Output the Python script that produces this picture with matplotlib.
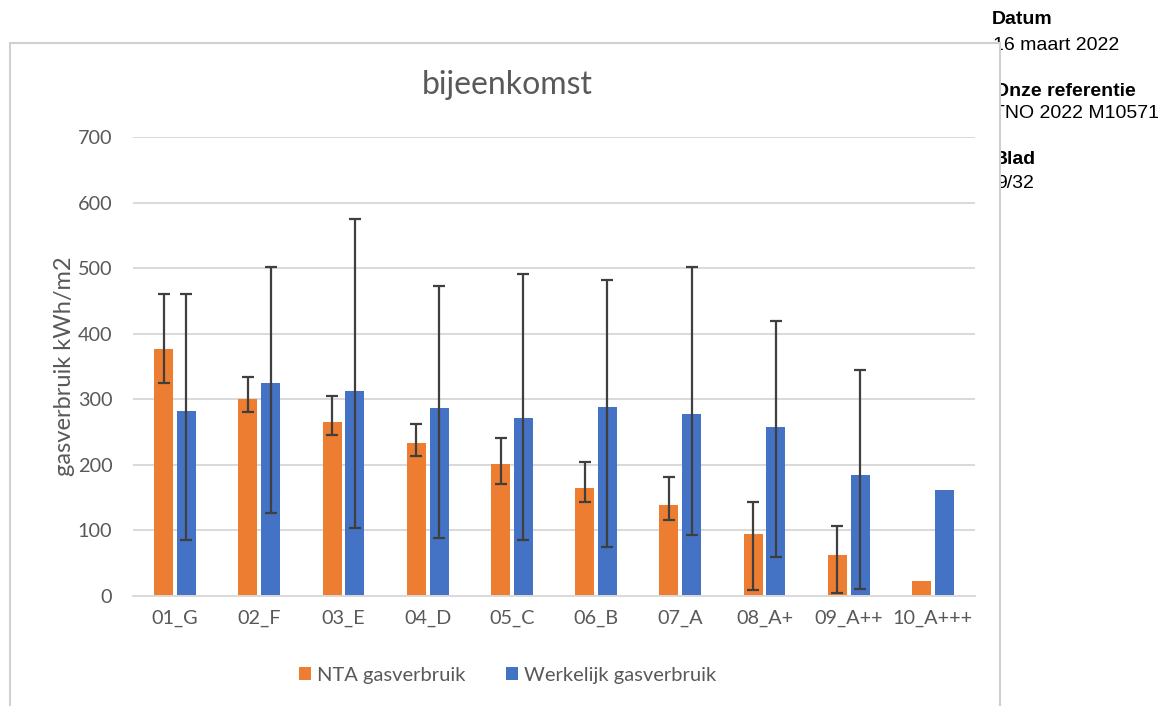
import numpy as np
import matplotlib
matplotlib.use("Agg")
from matplotlib import pyplot as plt
from matplotlib.patches import Rectangle

plt.rcParams['font.family'] = ['Lato', 'DejaVu Sans']

# data
labels = ["01_G", "02_F", "03_E", "04_D", "05_C", "06_B", "07_A", "08_A+", "09_A++", "10_A+++"]
nta = [376, 301, 266, 234, 202, 165, 139, 95, 62, 23]
nta_low = [325, 281, 246, 213, 171, 143, 116, 9, 5]
nta_high = [461, 334, 305, 262, 241, 204, 182, 143, 106]
werk = [282, 325, 312, 286, 271, 288, 278, 257, 185, 161]
werk_low = [86, 127, 103, 88, 85, 75, 93, 59, 10]
werk_high = [461, 502, 575, 473, 491, 482, 502, 419, 345]

orange = '#ED7D31'
blue = '#4472C4'
grey = '#595959'

W, H = 1166, 706
fig = plt.figure(figsize=(W / 100, H / 100), dpi=100)

# chart frame (white, covers the side text a bit)
frame = Rectangle((10 / W, -0.05), 990 / W, 1 - 43 / H + 0.05, transform=fig.transFigure,
                  facecolor='white', edgecolor='#D0D0D0', lw=1.5, zorder=2)
fig.patches.append(frame)

# side text of the document
side = [("Datum", 'bold', 992, 20), ("16 maart 2022", 'normal', 993, 46),
        ("Onze referentie", 'bold', 994, 91), ("TNO 2022 M10571", 'normal', 993, 113),
        ("Blad", 'bold', 994, 160), ("9/32", 'normal', 996, 183)]
for txt, w, xs, y in side:
    fig.text(xs / W, 1 - y / H, txt, family='Liberation Sans', fontsize=14,
             fontweight=w, va='center', ha='left', color='black', zorder=1)

ax = fig.add_axes([133 / W, 1 - 596 / H, 842 / W, 459 / H])
ax.set_zorder(3)
ax.patch.set_alpha(0)

x = np.arange(len(labels))
bw = 0.225
off = 0.135
ax.bar(x - off, nta, bw, color=orange, label='NTA gasverbruik', zorder=2)
ax.bar(x + off, werk, bw, color=blue, label='Werkelijk gasverbruik', zorder=2)

n = len(nta_low)
yerr_n = [np.array(nta[:n]) - np.array(nta_low), np.array(nta_high) - np.array(nta[:n])]
yerr_w = [np.array(werk[:n]) - np.array(werk_low), np.array(werk_high) - np.array(werk[:n])]
ax.errorbar(x[:n] - off, nta[:n], yerr=yerr_n, fmt='none', ecolor='#3F3F3F',
            elinewidth=1.6, capsize=4, capthick=1.6, zorder=3)
ax.errorbar(x[:n] + off, werk[:n], yerr=yerr_w, fmt='none', ecolor='#3F3F3F',
            elinewidth=1.6, capsize=4, capthick=1.6, zorder=3)

ax.set_xlim(-0.5, len(labels) - 0.5)
ax.set_ylim(0, 700)
ax.set_yticks(range(0, 701, 100))
ax.set_xticks(x)
ax.set_xticklabels(labels)
ax.tick_params(length=0, colors=grey, labelsize=14.3)
ax.tick_params(axis='y', pad=15)
ax.tick_params(axis='x', pad=10)
ax.grid(axis='y', color='#D9D9D9', lw=1.4, zorder=0)
ax.set_axisbelow(True)
for s in ['top', 'right', 'left']:
    ax.spines[s].set_visible(False)
ax.spines['bottom'].set_color('#D9D9D9')
ax.spines['bottom'].set_linewidth(1.4)

ax.set_ylabel('gasverbruik kWh/m2', color=grey, fontsize=17, labelpad=2)
fig.text(507 / W, 1 - 85 / H, 'bijeenkomst', ha='center', va='center',
         color=grey, fontsize=23, zorder=4)

fig.legend(loc='center', bbox_to_anchor=(508 / W, 1 - 675 / H), ncol=2, frameon=False,
           fontsize=14.5, labelcolor=grey, handlelength=0.6, handleheight=0.6,
           handletextpad=0.3, columnspacing=2.0)

fig.savefig('out.png', dpi=100)
